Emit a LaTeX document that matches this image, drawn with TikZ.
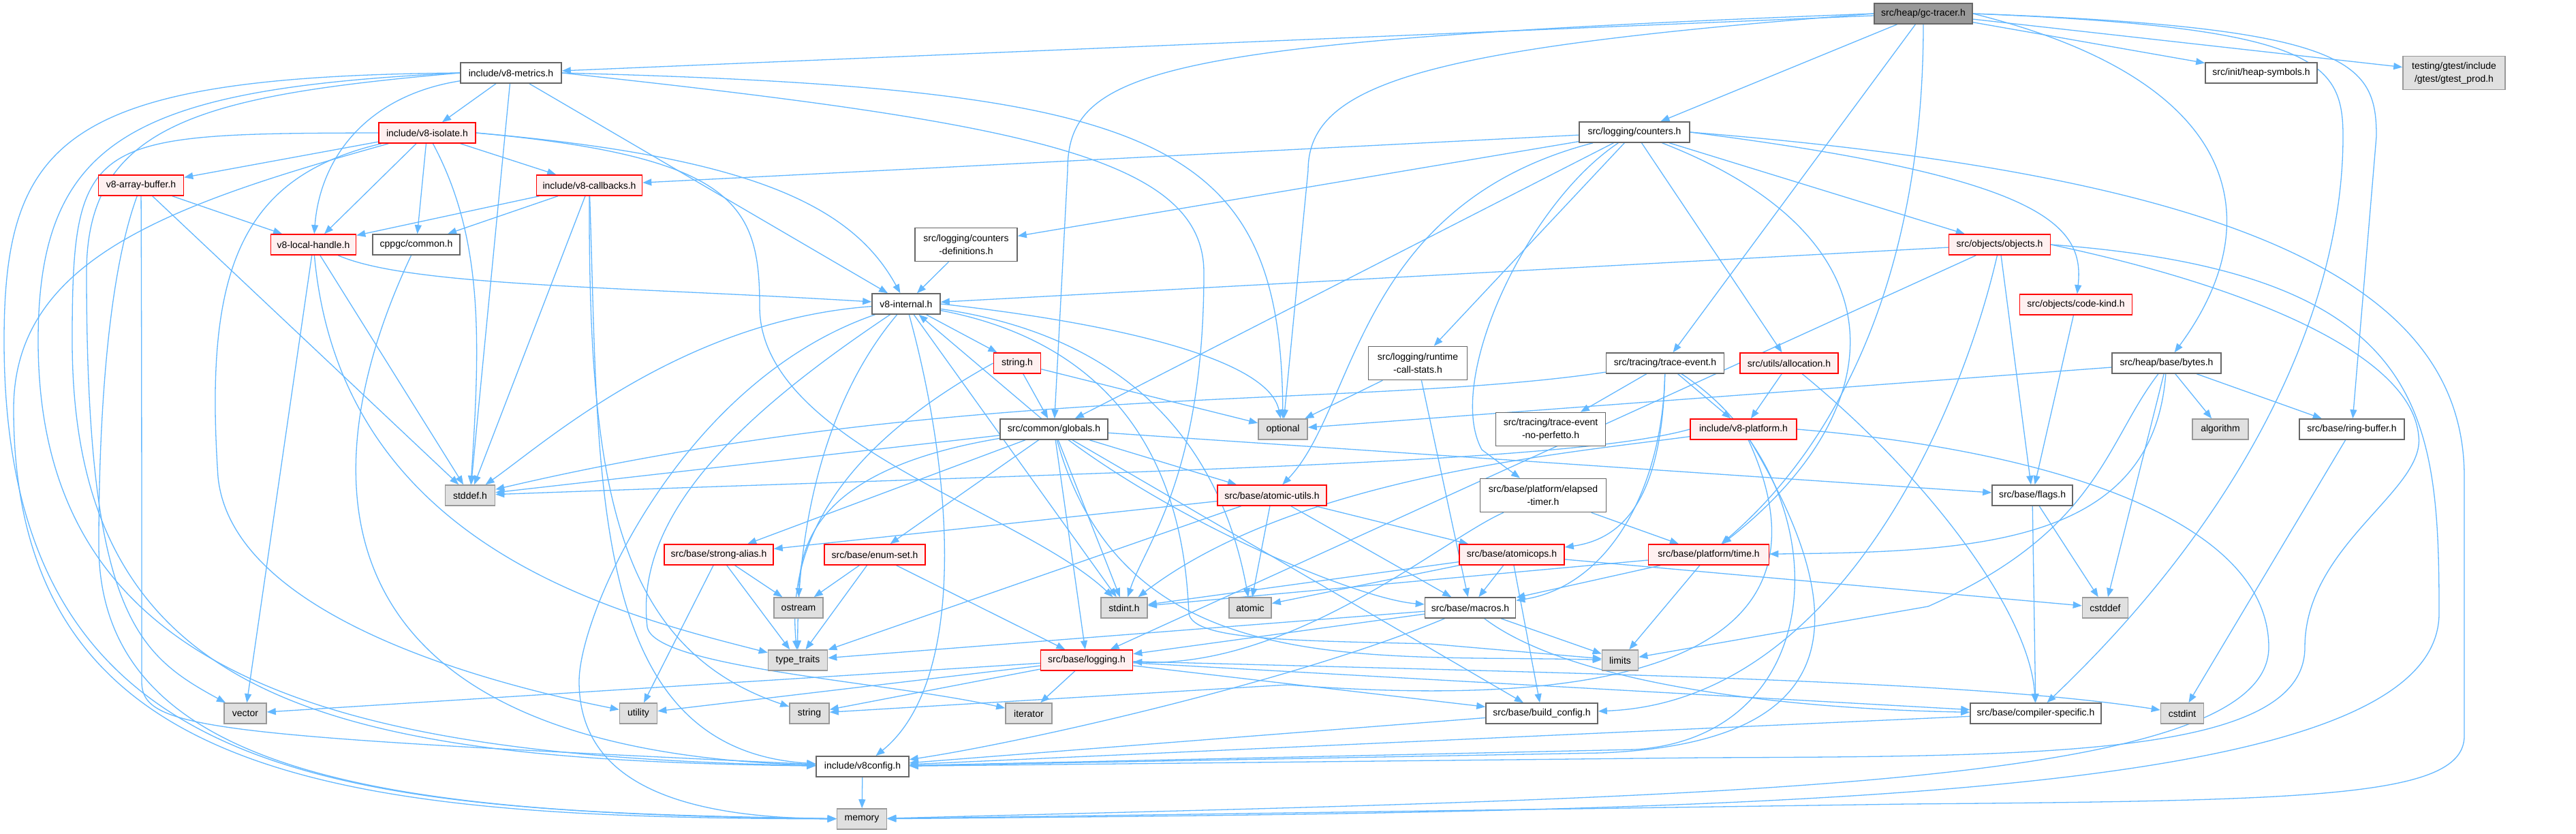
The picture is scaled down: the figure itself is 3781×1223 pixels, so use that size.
\documentclass[tikz,border=0pt]{standalone}
\usepackage{fontspec}
\setmainfont{Liberation Sans}
\usetikzlibrary{arrows.meta,backgrounds}
\definecolor{edgeblue}{HTML}{63B8FF}
\definecolor{boxgray}{HTML}{666666}
\definecolor{redline}{HTML}{FF0000}
\definecolor{redfill}{HTML}{FFF0F0}
\definecolor{sysline}{HTML}{999999}
\definecolor{sysfill}{HTML}{E0E0E0}
\definecolor{focusfill}{HTML}{999999}

\begin{document}
\begin{tikzpicture}[x=1pt,y=-1pt,
  hdr/.style={draw=boxgray,fill=white,line width=1.6pt,minimum height=30pt,inner sep=0pt,
    font=\fontsize{14pt}{19pt}\selectfont,align=center},
  hdrred/.style={hdr,draw=redline,fill=redfill},
  hdrsys/.style={hdr,draw=sysline,fill=sysfill},
  focus/.style={hdr,draw=boxgray,fill=focusfill},
  twoline/.style={minimum height=49pt},
  dep/.style={draw=edgeblue,line width=1.3pt,-{Triangle[length=13pt,width=10pt]}}]
\useasboundingbox (0,0) rectangle (3781,1223);

% headers, top to bottom
\node[focus,minimum width=144pt] (gct) at (2823,20) {src/heap/gc-tracer.h};
\node[hdr,minimum width=148pt] (metrics) at (750,107) {include/v8-metrics.h};
\node[hdr,minimum width=164pt] (heapsym) at (3319,107) {src/init/heap-symbols.h};
\node[hdrsys,twoline,minimum width=150pt] (gtest) at (3602,107) {testing/gtest/include\\/gtest/gtest\_prod.h};
\node[hdr,minimum width=162pt] (counters) at (2399,194) {src/logging/counters.h};
\node[hdrred,minimum width=142pt] (isolate) at (627,195) {include/v8-isolate.h};
\node[hdrred,minimum width=125pt] (arraybuf) at (207,272) {v8-array-buffer.h};
\node[hdrred,minimum width=155pt] (callbacks) at (865,272) {include/v8-callbacks.h};
\node[hdrred,minimum width=125pt] (localh) at (460,359) {v8-local-handle.h};
\node[hdr,minimum width=128pt] (cppgc) at (611,359) {cppgc/common.h};
\node[hdr,twoline,minimum width=150pt] (cntdef) at (1418,359) {src/logging/counters\\-definitions.h};
\node[hdrred,minimum width=149pt] (objects) at (2935,359) {src/objects/objects.h};
\node[hdr,minimum width=100pt] (internal) at (1330,446) {v8-internal.h};
\node[hdrred,minimum width=165pt] (codekind) at (3047,447) {src/objects/code-kind.h};
\node[hdrred,minimum width=69pt] (stringh) at (1493,533) {string.h};
\node[hdr,twoline,minimum width=145pt] (rcs) at (2081,533) {src/logging/runtime\\-call-stats.h};
\node[hdr,minimum width=173pt] (trace) at (2444,533) {src/tracing/trace-event.h};
\node[hdrred,minimum width=144pt] (alloc) at (2626,533) {src/utils/allocation.h};
\node[hdr,minimum width=160pt] (bytes) at (3180,533) {src/heap/base/bytes.h};
\node[hdr,minimum width=158pt] (globals) at (1547,630) {src/common/globals.h};
\node[hdrsys,minimum width=72pt] (optional) at (1883,630) {optional};
\node[hdr,twoline,minimum width=161pt] (noperf) at (2276,630) {src/tracing/trace-event\\-no-perfetto.h};
\node[hdrred,minimum width=156pt] (platform) at (2559,630) {include/v8-platform.h};
\node[hdrsys,minimum width=82pt] (algorithm) at (3259,630) {algorithm};
\node[hdr,minimum width=154pt] (ringbuf) at (3452,630) {src/base/ring-buffer.h};
\node[hdrsys,minimum width=73pt] (stddef) at (690,727) {stddef.h};
\node[hdrred,minimum width=160pt] (atomicutils) at (1867,727) {src/base/atomic-utils.h};
\node[hdr,twoline,minimum width=185pt] (elapsed) at (2265,727) {src/base/platform/elapsed\\-timer.h};
\node[hdr,minimum width=118pt] (flags) at (2983,727) {src/base/flags.h};
\node[hdrred,minimum width=160pt] (stralias) at (1055,814) {src/base/strong-alias.h};
\node[hdrred,minimum width=148pt] (enumset) at (1284,814) {src/base/enum-set.h};
\node[hdrred,minimum width=154pt] (atomicops) at (2219,814) {src/base/atomicops.h};
\node[hdrred,minimum width=177pt] (ptime) at (2508,814) {src/base/platform/time.h};
\node[hdrsys,minimum width=72pt] (ostream) at (1172,892) {ostream};
\node[hdrsys,minimum width=68pt] (stdint) at (1650,892) {stdint.h};
\node[hdrsys,minimum width=62pt] (atomic) at (1835,892) {atomic};
\node[hdr,minimum width=133pt] (macros) at (2158,892) {src/base/macros.h};
\node[hdrsys,minimum width=67pt] (cstddef) at (3090,892) {cstddef};
\node[hdrsys,minimum width=87pt] (typetraits) at (1171,969) {type\_traits};
\node[hdrred,minimum width=135pt] (logging) at (1595,969) {src/base/logging.h};
\node[hdrsys,minimum width=53pt] (limits) at (2378,969) {limits};
\node[hdrsys,minimum width=62pt] (vector) at (360,1047) {vector};
\node[hdrsys,minimum width=55pt] (utility) at (937,1047) {utility};
\node[hdrsys,minimum width=58pt] (string) at (1188,1047) {string};
\node[hdrsys,minimum width=68pt] (iterator) at (1510,1047) {iterator};
\node[hdr,minimum width=164pt] (buildcfg) at (2263,1047) {src/base/build\_config.h};
\node[hdr,minimum width=192pt] (compspec) at (2988,1047) {src/base/compiler-specific.h};
\node[hdrsys,minimum width=63pt] (cstdint) at (3203,1047) {cstdint};
\node[hdr,minimum width=136pt] (v8config) at (1266,1125) {include/v8config.h};
\node[hdrsys,minimum width=73pt] (memory) at (1265,1202) {memory};

\begin{scope}[on background layer]
\fill[white] (0,0) rectangle (3781,1223);

% gc-tracer
\draw[dep] (gct) -- (metrics);
\draw[dep] (gct.west) .. controls (1700,60) and (1567,100) .. (1567,250) -- (globals);
\draw[dep] (gct.west) .. controls (2100,70) and (1920,120) .. (1920,250) -- (optional);
\draw[dep] (gct) -- (counters);
\draw[dep] (gct) -- (trace);
\draw[dep] (gct) .. controls (2823,400) and (2700,650) .. (ptime);
\draw[dep] (gct) -- (heapsym);
\draw[dep] (gct) -- (gtest);
\draw[dep] (gct.east) .. controls (3300,120) and (3330,330) .. (bytes);
\draw[dep] (gct.east) .. controls (3400,40) and (3439,90) .. (3439,200) .. controls (3439,450) and (3300,750) .. (compspec);
\draw[dep] (gct.east) .. controls (3450,40) and (3488,90) .. (3488,200) -- (ringbuf);

% counters
\draw[dep] (counters) -- (callbacks);
\draw[dep] (counters) -- (cntdef);
\draw[dep] (counters) -- (globals);
\draw[dep] (counters) -- (rcs);
\draw[dep] (counters) .. controls (1990,300) and (1990,600) .. (atomicutils);
\draw[dep] (counters) .. controls (2240,300) and (2120,560) .. (2175,660) -- (elapsed);
\draw[dep] (counters) -- (alloc);
\draw[dep] (counters) .. controls (2800,350) and (2780,600) .. (ptime);
\draw[dep] (counters) -- (objects);
\draw[dep] (counters.east) .. controls (3000,260) and (3060,330) .. (codekind);
\draw[dep] (counters.east) .. controls (3300,260) and (3617,420) .. (3617,700) -- (3617,1080) .. controls (3617,1170) and (3400,1175) .. (2800,1180) -- (memory);

% v8-metrics
\draw[dep] (metrics) -- (isolate);
\draw[dep] (metrics) .. controls (540,140) and (470,230) .. (localh);
\draw[dep] (metrics) -- (stddef);
\draw[dep] (metrics) -- (internal);
\draw[dep] (metrics.east) .. controls (1700,130) and (1880,200) .. (optional);
\draw[dep] (metrics.east) .. controls (1500,180) and (1767,230) .. (1767,400) .. controls (1767,700) and (1680,800) .. (stdint);
\draw[dep] (metrics.west) .. controls (300,140) and (127,180) .. (127,400) .. controls (127,900) and (200,960) .. (vector);
\draw[dep] (metrics.west) .. controls (200,130) and (56,200) .. (56,500) .. controls (56,1000) and (500,1110) .. (v8config);
\draw[dep] (metrics.west) .. controls (100,112) and (6,200) .. (6,500) .. controls (6,1160) and (500,1190) .. (memory);

% v8-isolate
\draw[dep] (isolate) -- (arraybuf);
\draw[dep] (isolate) -- (callbacks);
\draw[dep] (isolate) -- (localh);
\draw[dep] (isolate) -- (cppgc);
\draw[dep] (isolate.east) .. controls (1100,230) and (1250,300) .. (internal);
\draw[dep] (isolate) .. controls (710,350) and (705,500) .. (stddef);
\draw[dep] (isolate.east) .. controls (1080,230) and (1115,300) .. (1115,450) .. controls (1115,650) and (1500,750) .. (stdint);
\draw[dep] (isolate) .. controls (350,260) and (300,400) .. (320,700) .. controls (340,900) and (700,1000) .. (utility);
\draw[dep] (isolate) .. controls (250,300) and (20,380) .. (20,600) .. controls (20,1150) and (500,1200) .. (memory);
\draw[dep] (isolate.west) .. controls (130,196) and (106,200) .. (106,500) .. controls (106,1040) and (500,1115) .. (v8config);

% v8-array-buffer, v8-callbacks
\draw[dep] (arraybuf) -- (localh);
\draw[dep] (arraybuf) -- (stddef);
\draw[dep] (arraybuf) .. controls (160,400) and (145,600) .. (145,800) .. controls (145,1150) and (600,1195) .. (memory);
\draw[dep] (arraybuf) .. controls (208,500) and (208,800) .. (208,1000) .. controls (208,1070) and (300,1080) .. (v8config);
\draw[dep] (callbacks) -- (localh);
\draw[dep] (callbacks) -- (cppgc);
\draw[dep] (callbacks) -- (stddef);
\draw[dep] (callbacks) .. controls (864,700) and (900,950) .. (string);
\draw[dep] (callbacks) .. controls (880,700) and (860,1100) .. (v8config);

% v8-local-handle, cppgc, counters-definitions
\draw[dep] (localh) .. controls (600,420) and (900,420) .. (internal);
\draw[dep] (localh) -- (stddef);
\draw[dep] (localh) -- (vector);
\draw[dep] (localh) .. controls (500,800) and (900,900) .. (typetraits);
\draw[dep] (cppgc) .. controls (450,700) and (450,1100) .. (v8config);
\draw[dep] (cntdef) -- (internal);

% v8-internal
\draw[dep] (internal) -- (stringh);
\draw[dep] (internal) .. controls (1000,470) and (800,650) .. (stddef);
\draw[dep] (internal) -- (stdint);
\draw[dep] (internal) .. controls (1700,500) and (1800,700) .. (atomic);
\draw[dep] (internal.east) .. controls (1600,470) and (1860,520) .. (optional);
\draw[dep] (internal) .. controls (1200,600) and (1170,800) .. (typetraits);
\draw[dep] (internal) .. controls (1100,600) and (930,750) .. (950,920) .. controls (960,980) and (1300,1000) .. (iterator);
\draw[dep] (internal) .. controls (1720,520) and (1740,800) .. (1745,900) .. controls (1750,940) and (1900,940) .. (2100,945) -- (limits);
\draw[dep] (internal) .. controls (1000,560) and (850,900) .. (850,1000) .. controls (850,1150) and (1000,1200) .. (memory);
\draw[dep] (internal) .. controls (1400,700) and (1420,1000) .. (v8config);

% string.h
\draw[dep] (stringh) -- (optional);
\draw[dep] (stringh) -- (globals);
\draw[dep] (stringh.west) .. controls (1300,620) and (1150,750) .. (typetraits);

% globals
\draw[dep] (globals) -- (internal);
\draw[dep] (globals) -- (stddef);
\draw[dep] (globals) .. controls (1250,680) and (1175,760) .. (ostream);
\draw[dep] (globals) -- (stralias);
\draw[dep] (globals) -- (enumset);
\draw[dep] (globals) -- (atomicutils);
\draw[dep] (globals) -- (flags);
\draw[dep] (globals) -- (logging);
\draw[dep] (globals) .. controls (1750,780) and (2000,880) .. (macros);
\draw[dep] (globals) -- (stdint);
\draw[dep] (globals) .. controls (1650,1000) and (2000,960) .. (limits);
\draw[dep] (globals) -- (buildcfg);

% atomic-utils, elapsed-timer, runtime-call-stats
\draw[dep] (atomicutils) -- (stralias);
\draw[dep] (atomicutils) -- (atomicops);
\draw[dep] (atomicutils) -- (atomic);
\draw[dep] (atomicutils) -- (macros);
\draw[dep] (atomicutils) -- (typetraits);
\draw[dep] (elapsed) -- (ptime);
\draw[dep] (elapsed) .. controls (2120,790) and (1900,980) .. (logging);
\draw[dep] (rcs) -- (optional);
\draw[dep] (rcs) -- (macros);

% trace-event
\draw[dep] (trace) -- (noperf);
\draw[dep] (trace) -- (platform);
\draw[dep] (trace) .. controls (2440,720) and (2390,790) .. (atomicops);
\draw[dep] (trace) .. controls (2440,720) and (2360,860) .. (macros);
\draw[dep] (trace) .. controls (2000,600) and (1400,560) .. (stddef);
\draw[dep] (trace) .. controls (2700,700) and (2700,1080) .. (2400,1100) -- (v8config);

% allocation, v8-platform
\draw[dep] (alloc) -- (platform);
\draw[dep] (alloc) .. controls (2830,700) and (2980,900) .. (compspec);
\draw[dep] (platform.west) .. controls (2300,680) and (1700,690) .. (stddef);
\draw[dep] (platform) .. controls (2300,665) and (1900,700) .. (stdint);
\draw[dep] (platform) .. controls (2660,850) and (2600,1060) .. (1890,1005) -- (string);
\draw[dep] (platform.east) .. controls (3000,660) and (3330,760) .. (3330,950) .. controls (3330,1160) and (2500,1170) .. (memory);
\draw[dep] (platform) .. controls (2720,900) and (2720,1090) .. (2350,1105) -- (v8config);

% objects, code-kind
\draw[dep] (objects) -- (internal);
\draw[dep] (objects) -- (logging);
\draw[dep] (objects) -- (flags);
\draw[dep] (objects) .. controls (2880,600) and (2700,1030) .. (buildcfg);
\draw[dep] (objects.east) .. controls (3300,420) and (3540,520) .. (3550,640) .. controls (3560,720) and (3383,800) .. (3383,950) .. controls (3383,1110) and (3000,1110) .. (2500,1112) -- (v8config);
\draw[dep] (objects.east) .. controls (3560,400) and (3580,600) .. (3580,900) .. controls (3580,1180) and (2600,1190) .. (memory);
\draw[dep] (codekind) -- (flags);

% bytes, ring-buffer, flags
\draw[dep] (bytes) -- (optional);
\draw[dep] (bytes) -- (algorithm);
\draw[dep] (bytes) -- (ringbuf);
\draw[dep] (bytes) -- (cstddef);
\draw[dep] (bytes) .. controls (3090,650) and (3080,780) .. (2830,890) -- (limits);
\draw[dep] (bytes) .. controls (3160,800) and (2900,810) .. (ptime);
\draw[dep] (ringbuf) -- (cstdint);
\draw[dep] (flags) -- (compspec);
\draw[dep] (flags) -- (cstddef);

% strong-alias, enum-set
\draw[dep] (stralias) -- (ostream);
\draw[dep] (stralias) -- (typetraits);
\draw[dep] (stralias) -- (utility);
\draw[dep] (enumset) -- (ostream);
\draw[dep] (enumset) -- (typetraits);
\draw[dep] (enumset) -- (logging);

% atomicops, platform/time
\draw[dep] (atomicops) -- (stdint);
\draw[dep] (atomicops) -- (atomic);
\draw[dep] (atomicops) -- (macros);
\draw[dep] (atomicops) -- (buildcfg);
\draw[dep] (atomicops) -- (cstddef);
\draw[dep] (ptime) -- (macros);
\draw[dep] (ptime) -- (limits);
\draw[dep] (ptime) -- (stdint);

% macros
\draw[dep] (macros) -- (limits);
\draw[dep] (macros) -- (typetraits);
\draw[dep] (macros) -- (logging);
\draw[dep] (macros) .. controls (2300,1000) and (2600,1040) .. (compspec);
\draw[dep] (macros) .. controls (1900,1000) and (1500,1090) .. (v8config);

% logging
\draw[dep] (logging) -- (vector);
\draw[dep] (logging) -- (utility);
\draw[dep] (logging) -- (string);
\draw[dep] (logging) -- (iterator);
\draw[dep] (logging) -- (buildcfg);
\draw[dep] (logging) -- (compspec);
\draw[dep] (logging) .. controls (2400,990) and (2900,1000) .. (cstdint);

% build config, compiler-specific, v8config
\draw[dep] (buildcfg) -- (v8config);
\draw[dep] (compspec) -- (v8config);
\draw[dep] (v8config) -- (memory);
\end{scope}
\end{tikzpicture}
\end{document}
